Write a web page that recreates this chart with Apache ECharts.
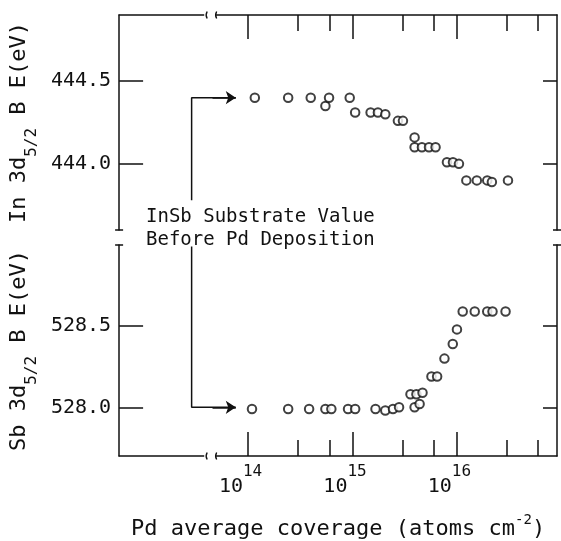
<!DOCTYPE html>
<html>
<head>
<meta charset="utf-8">
<script src="https://cdn.jsdelivr.net/npm/echarts@6.0.0/dist/echarts.min.js"></script>
<style>
  html, body { margin: 0; padding: 0; background: #fff; }
  #chart { width: 561px; height: 541px; }
</style>
</head>
<body>
<div id="chart"></div>
<script>
// Pd average coverage (atoms cm^-2) and In 3d5/2 binding energy (eV)
const inCoverage = [1.16e14, 2.42e14, 3.98e14, 5.5e14, 5.96e14, 9.4e14, 1.06e15, 1.49e15, 1.75e15, 2.06e15,
  2.72e15, 3.04e15, 3.93e15, 3.93e15, 4.62e15, 5.4e15, 6.24e15, 8.02e15, 9.16e15, 1.045e16,
  1.23e16, 1.55e16, 1.95e16, 2.16e16, 3.08e16];
const inEnergy = [444.40, 444.40, 444.40, 444.35, 444.40, 444.40, 444.31, 444.31, 444.31, 444.30,
  444.26, 444.26, 444.16, 444.10, 444.10, 444.10, 444.10, 444.01, 444.01, 444.00,
  443.90, 443.90, 443.90, 443.89, 443.90];

// Pd average coverage (atoms cm^-2) and Sb 3d5/2 binding energy (eV)
const sbCoverage = [1.09e14, 2.42e14, 3.84e14, 5.5e14, 6.27e14, 9.06e14, 1.06e15, 1.66e15, 2.06e15, 2.44e15,
  2.79e15, 3.59e15, 3.93e15, 4.09e15, 4.39e15, 4.68e15, 5.7e15, 6.46e15, 7.59e15, 9.12e15,
  1.0e16, 1.135e16, 1.48e16, 1.95e16, 2.19e16, 2.92e16];
const sbEnergy = [527.99, 527.99, 527.99, 527.99, 527.99, 527.99, 527.99, 527.99, 527.98, 527.99,
  528.00, 528.08, 528.00, 528.08, 528.02, 528.09, 528.19, 528.19, 528.30, 528.39,
  528.48, 528.59, 528.59, 528.59, 528.59, 528.59];

// Axis ticks
const majorTicks = [1e14, 1e15, 1e16];
const minorTicks = [3e14, 6e14, 3e15, 6e15, 3e16, 6e16];
const inTicks = [444.0, 444.5];
const sbTicks = [528.0, 528.5];

// Substrate reference values (before deposition)
const inSubstrate = 444.4;
const sbSubstrate = 528.0;

const FONT = '"DejaVu Sans Mono", monospace';
const INK = '#111';
const lg = Math.log10;

const X_MIN = 12.765, X_MAX = 16.958;       // log10 coverage range
const IN_RANGE = [443.6, 444.9];
const SB_RANGE = [527.7, 529.0];
const BREAK_LO = 13.58, BREAK_HI = 13.69;   // axis break on the coverage axis
const ELBOW_X = 2.88e13, TIP_X = 7.62e13;   // annotation leader lines
const IN_LEADER_END = 443.78, SB_LEADER_END = 528.99;

const lineStyle = { color: INK, width: 1.5 };

function coverageAxis(grid, pos, ticks, len, showLine, labels) {
  return {
    type: 'value', gridIndex: grid, position: pos, min: X_MIN, max: X_MAX,
    axisLine: { show: showLine, onZero: false, lineStyle },
    axisTick: { show: true, inside: true, length: len, customValues: ticks.map(lg), lineStyle },
    splitLine: { show: false },
    axisLabel: labels ? {
      show: true, margin: 8, customValues: majorTicks.map(lg),
      formatter: v => '{b|10}{s|' + Math.round(v) + '}',
      rich: {
        b: { fontFamily: FONT, fontSize: 20, lineHeight: 20, color: INK, padding: [13, 0, 0, 0], verticalAlign: 'top' },
        s: { fontFamily: FONT, fontSize: 16, lineHeight: 16, color: INK, padding: [0, 15, 0, 0], verticalAlign: 'top' }
      }
    } : { show: false }
  };
}

function energyAxis(grid, pos, range, ticks, len, labels, name) {
  const ax = {
    type: 'value', gridIndex: grid, position: pos, min: range[0], max: range[1],
    axisLine: { show: true, lineStyle },
    axisTick: { show: true, inside: true, length: len, customValues: ticks, lineStyle },
    splitLine: { show: false },
    axisLabel: labels ? {
      show: true, margin: 8, customValues: ticks, fontFamily: FONT, fontSize: 20, color: INK,
      formatter: v => v.toFixed(1)
    } : { show: false }
  };
  if (name) {
    ax.name = name;
    ax.nameLocation = 'middle';
    ax.nameRotate = 90;
    ax.nameGap = 76;
    ax.nameTextStyle = {
      rich: {
        m: { fontFamily: FONT, fontSize: 22, lineHeight: 22, color: INK, verticalAlign: 'top' },
        s: { fontFamily: FONT, fontSize: 16, lineHeight: 16, color: INK, padding: [16, 0, 0, 0], verticalAlign: 'top' }
      }
    };
  }
  return ax;
}

const xAxes = [
  coverageAxis(0, 'top', majorTicks, 24, true, false),
  coverageAxis(0, 'top', minorTicks, 16, false, false),
  coverageAxis(1, 'bottom', majorTicks, 24, true, true),
  coverageAxis(1, 'bottom', minorTicks, 16, false, false)
];
xAxes[2].name = '{n|Pd average coverage (atoms cm}{p|-2}{n|)}';
xAxes[2].nameLocation = 'middle';
xAxes[2].nameGap = 57;
xAxes[2].nameTextStyle = {
  rich: {
    n: { fontFamily: FONT, fontSize: 22, lineHeight: 22, color: INK, padding: [5, 0, 0, 0], verticalAlign: 'top' },
    p: { fontFamily: FONT, fontSize: 14, lineHeight: 14, color: INK, verticalAlign: 'top' }
  }
};

const yAxes = [
  energyAxis(0, 'left', IN_RANGE, inTicks, 24, true, '{m|In 3d}{s|5/2}{m| B E(eV)}'),
  energyAxis(0, 'right', IN_RANGE, inTicks, 14, false, null),
  energyAxis(1, 'left', SB_RANGE, sbTicks, 24, true, '{m|Sb 3d}{s|5/2}{m| B E(eV)}'),
  energyAxis(1, 'right', SB_RANGE, sbTicks, 14, false, null)
];

const circle = {
  type: 'scatter', symbol: 'circle', symbolSize: 8.5, z: 5,
  itemStyle: { color: '#fff', borderColor: INK, borderWidth: 2 }
};

function leader(xi, yi, endY, level) {
  return [
    {
      type: 'line', xAxisIndex: xi, yAxisIndex: yi, symbol: 'none', silent: true,
      lineStyle: { color: INK, width: 1.5 },
      data: [[lg(ELBOW_X), endY], [lg(ELBOW_X), level], [lg(TIP_X), level]]
    },
    {
      type: 'lines', coordinateSystem: 'cartesian2d', xAxisIndex: xi, yAxisIndex: yi,
      symbol: ['none', 'arrow'], symbolSize: 10, silent: true,
      lineStyle: { color: INK, width: 1.5, opacity: 1 },
      data: [{ coords: [[lg(ELBOW_X) + 0.2, level], [lg(TIP_X), level]] }]
    }
  ];
}

const chart = echarts.init(document.getElementById('chart'), null, { renderer: 'canvas' });
chart.setOption({
  animation: false,
  backgroundColor: '#fff',
  grid: [
    { left: 118, right: 4, top: 15, height: 215 },
    { left: 118, right: 4, top: 245, height: 213 }
  ],
  xAxis: xAxes,
  yAxis: yAxes,
  series: [
    Object.assign({}, circle, { name: 'In 3d5/2', xAxisIndex: 0, yAxisIndex: 0,
      data: inCoverage.map((c, i) => [lg(c), inEnergy[i]]) }),
    Object.assign({}, circle, { name: 'Sb 3d5/2', xAxisIndex: 2, yAxisIndex: 2,
      data: sbCoverage.map((c, i) => [lg(c), sbEnergy[i]]) }),
    ...leader(0, 0, IN_LEADER_END, inSubstrate),
    ...leader(2, 2, SB_LEADER_END, sbSubstrate)
  ]
});

// Axis-break marks and the annotation text
const px = (axis, v) => chart.convertToPixel(axis, v);
const xLo = px({ xAxisIndex: 0 }, BREAK_LO), xHi = px({ xAxisIndex: 0 }, BREAK_HI);
const xLeft = px({ xAxisIndex: 0 }, X_MIN), xRight = px({ xAxisIndex: 0 }, X_MAX);
const yTop = px({ yAxisIndex: 0 }, IN_RANGE[1]);
const yBottom = px({ yAxisIndex: 2 }, SB_RANGE[0]);
const yGapA = px({ yAxisIndex: 0 }, IN_RANGE[0]);
const yGapB = px({ yAxisIndex: 2 }, SB_RANGE[1]);

const graphics = [];
[yTop, yBottom].forEach(y => {
  graphics.push({ type: 'rect', shape: { x: xLo, y: y - 4, width: xHi - xLo, height: 8 }, style: { fill: '#fff' }, z: 100 });
  [xLo + 2, xHi].forEach(x => {
    graphics.push({ type: 'arc', shape: { cx: x + 7, cy: y, r: 7, startAngle: Math.PI * 5 / 6, endAngle: Math.PI * 7 / 6, clockwise: true },
      style: { stroke: INK, lineWidth: 1.4, fill: null }, z: 101 });
  });
});
[xLeft, xRight].forEach(x => {
  [yGapA, yGapB].forEach(y => {
    graphics.push({ type: 'line', shape: { x1: x - 4, y1: y, x2: x + 4, y2: y }, style: { stroke: INK, lineWidth: 1.5 }, z: 101 });
  });
});
graphics.push({
  type: 'text', left: 146, top: 205, z: 101,
  style: { text: 'InSb Substrate Value\nBefore Pd Deposition', font: '19px ' + FONT, fill: INK, lineHeight: 23.5 }
});
chart.setOption({ graphic: graphics });
</script>
</body>
</html>
